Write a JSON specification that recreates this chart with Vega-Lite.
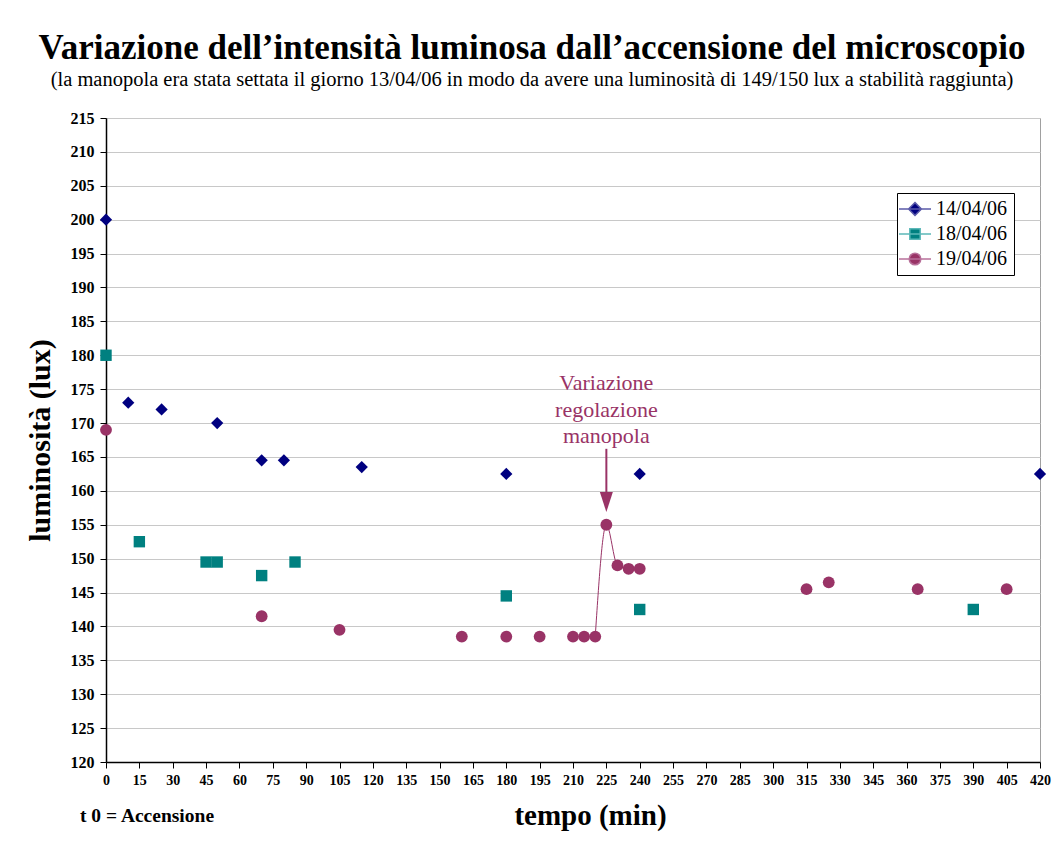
{
  "$schema": "https://vega.github.io/schema/vega-lite/v6.json",
  "width": 934,
  "height": 644,
  "autosize": {"type": "none"},
  "padding": {"left": 106, "top": 118, "right": 16, "bottom": 83},
  "background": "white",
  "title": {
    "text": "Variazione dell’intensità luminosa dall’accensione del microscopio",
    "subtitle": "(la manopola era stata settata il giorno 13/04/06 in modo da avere una luminosità di 149/150 lux a stabilità raggiunta)",
    "anchor": "middle",
    "frame": "group",
    "dx": -41,
    "offset": 20,
    "font": "Liberation Serif",
    "fontSize": 35,
    "fontWeight": "bold",
    "color": "black",
    "subtitleFont": "Liberation Serif",
    "subtitleFontSize": 20.5,
    "subtitleColor": "black",
    "subtitlePadding": 4
  },
  "config": {
    "view": {"stroke": "#a0a0a0", "strokeWidth": 1},
    "axis": {
      "labelFont": "Liberation Serif",
      "labelFontWeight": "bold",
      "labelFontSize": 16,
      "labelColor": "black",
      "labelOverlap": false,
      "labelFlush": false,
      "titleFont": "Liberation Serif",
      "titleFontWeight": "bold",
      "titleColor": "black",
      "domainColor": "black",
      "domainWidth": 1.5,
      "tickColor": "black",
      "tickSize": 6,
      "gridColor": "#c8c8c8",
      "gridWidth": 1
    }
  },
  "data": {
    "values": [
      {"series": "14/04/06", "t": 0, "lux": 200},
      {"series": "14/04/06", "t": 10, "lux": 173},
      {"series": "14/04/06", "t": 25, "lux": 172},
      {"series": "14/04/06", "t": 50, "lux": 170},
      {"series": "14/04/06", "t": 70, "lux": 164.5},
      {"series": "14/04/06", "t": 80, "lux": 164.5},
      {"series": "14/04/06", "t": 115, "lux": 163.5},
      {"series": "14/04/06", "t": 180, "lux": 162.5},
      {"series": "14/04/06", "t": 240, "lux": 162.5},
      {"series": "14/04/06", "t": 420, "lux": 162.5},
      {"series": "18/04/06", "t": 0, "lux": 180},
      {"series": "18/04/06", "t": 15, "lux": 152.5},
      {"series": "18/04/06", "t": 45, "lux": 149.5},
      {"series": "18/04/06", "t": 50, "lux": 149.5},
      {"series": "18/04/06", "t": 70, "lux": 147.5},
      {"series": "18/04/06", "t": 85, "lux": 149.5},
      {"series": "18/04/06", "t": 180, "lux": 144.5},
      {"series": "18/04/06", "t": 240, "lux": 142.5},
      {"series": "18/04/06", "t": 390, "lux": 142.5},
      {"series": "19/04/06", "t": 0, "lux": 169},
      {"series": "19/04/06", "t": 70, "lux": 141.5},
      {"series": "19/04/06", "t": 105, "lux": 139.5},
      {"series": "19/04/06", "t": 160, "lux": 138.5},
      {"series": "19/04/06", "t": 180, "lux": 138.5},
      {"series": "19/04/06", "t": 195, "lux": 138.5},
      {"series": "19/04/06", "t": 210, "lux": 138.5},
      {"series": "19/04/06", "t": 215, "lux": 138.5},
      {"series": "19/04/06", "t": 220, "lux": 138.5},
      {"series": "19/04/06", "t": 225, "lux": 155},
      {"series": "19/04/06", "t": 230, "lux": 149},
      {"series": "19/04/06", "t": 235, "lux": 148.5},
      {"series": "19/04/06", "t": 240, "lux": 148.5},
      {"series": "19/04/06", "t": 315, "lux": 145.5},
      {"series": "19/04/06", "t": 325, "lux": 146.5},
      {"series": "19/04/06", "t": 365, "lux": 145.5},
      {"series": "19/04/06", "t": 405, "lux": 145.5}
    ]
  },
  "encoding": {
    "x": {
      "field": "t",
      "type": "quantitative",
      "scale": {"domain": [0, 420], "nice": false, "zero": false},
      "axis": {
        "title": "tempo (min)",
        "values": [0,15,30,45,60,75,90,105,120,135,150,165,180,195,210,225,240,255,270,285,300,315,330,345,360,375,390,405,420],
        "labelFontSize": 14,
        "labelPadding": 5,
        "grid": false,
        "titleFontSize": 29,
        "titleX": 484,
        "titleY": 62,
        "titleBaseline": "alphabetic"
      }
    },
    "y": {
      "field": "lux",
      "type": "quantitative",
      "scale": {"domain": [120, 215], "nice": false, "zero": false},
      "axis": {
        "title": "luminosità (lux)",
        "values": [120,125,130,135,140,145,150,155,160,165,170,175,180,185,190,195,200,205,210,215],
        "labelPadding": 6,
        "titleFontSize": 30,
        "titleX": -66,
        "titleBaseline": "middle",
        "titleAngle": -90
      }
    }
  },
  "layer": [
    {
      "transform": [{"filter": "datum.series === '19/04/06' && datum.t >= 220 && datum.t <= 240"}],
      "mark": {"type": "line", "interpolate": "monotone", "color": "#993366", "strokeWidth": 1}
    },
    {
      "transform": [{"filter": "datum.series === '14/04/06'"}],
      "mark": {"type": "point", "shape": "diamond", "filled": true, "size": 150, "color": "#000080", "opacity": 1}
    },
    {
      "transform": [{"filter": "datum.series === '18/04/06'"}],
      "mark": {"type": "point", "shape": "square", "filled": true, "size": 130, "color": "#008080", "opacity": 1}
    },
    {
      "transform": [{"filter": "datum.series === '19/04/06'"}],
      "mark": {"type": "point", "shape": "circle", "filled": true, "size": 140, "color": "#993366", "opacity": 1}
    },
    {
      "mark": {"type": "point", "filled": true, "opacity": 0, "size": 64},
      "encoding": {
        "fill": {
          "field": "series", "type": "nominal",
          "scale": {"domain": ["14/04/06", "18/04/06", "19/04/06"], "range": ["#000080", "#008080", "#993366"]},
          "legend": null
        },
        "stroke": {
          "field": "series", "type": "nominal",
          "scale": {"domain": ["14/04/06", "18/04/06", "19/04/06"], "range": ["#5a5aa8", "#5cb8b8", "#b8709a"]},
          "legend": null
        },
        "shape": {
          "field": "series", "type": "nominal",
          "scale": {
            "domain": ["14/04/06", "18/04/06", "19/04/06"],
            "range": [
              "M-4,0L4,0M0,-1.6L1.6,0L0,1.6L-1.6,0Z",
              "M-4,0L4,0M-1.3,-1.3L1.3,-1.3L1.3,1.3L-1.3,1.3Z",
              "M-4,0L4,0M-1.45,0A1.45,1.45,0,1,0,1.45,0A1.45,1.45,0,1,0,-1.45,0Z"
            ]
          },
          "legend": {
            "title": null,
            "orient": "none",
            "legendX": 791,
            "legendY": 75,
            "padding": 6,
            "strokeColor": "black",
            "fillColor": "white",
            "symbolSize": 64,
            "symbolOpacity": 1,
            "symbolStrokeWidth": 1.5,
            "symbolOffset": 2,
            "labelOffset": 11,
            "labelFont": "Liberation Serif",
            "labelFontSize": 20,
            "labelColor": "black",
            "rowPadding": 5
          }
        }
      }
    },
    {
      "transform": [{"filter": "datum.series === '14/04/06' && datum.t === 0"}],
      "mark": {"type": "text", "text": ["Variazione", "regolazione", "manopola"], "font": "Liberation Serif", "fontSize": 22, "lineHeight": 26.5, "color": "#993366", "align": "center", "baseline": "middle"},
      "encoding": {"x": {"datum": 225}, "y": {"datum": 175.9}}
    },
    {
      "transform": [{"filter": "datum.series === '14/04/06' && datum.t === 0"}],
      "mark": {"type": "rule", "color": "#993366", "strokeWidth": 2},
      "encoding": {"x": {"datum": 225}, "y": {"datum": 166.2}, "y2": {"datum": 158.8}}
    },
    {
      "transform": [{"filter": "datum.series === '14/04/06' && datum.t === 0"}],
      "mark": {"type": "point", "shape": "M-0.65,-1L0.65,-1L0,1Z", "filled": true, "size": 400, "color": "#993366", "opacity": 1},
      "encoding": {"x": {"datum": 225}, "y": {"datum": 158.35}}
    },
    {
      "transform": [{"filter": "datum.series === '14/04/06' && datum.t === 0"}],
      "mark": {"type": "text", "text": "t 0 = Accensione", "font": "Liberation Serif", "fontWeight": "bold", "fontSize": 19.5, "color": "black", "align": "left", "baseline": "alphabetic"},
      "encoding": {"x": {"datum": -11.7}, "y": {"datum": 111.15}}
    }
  ]
}
